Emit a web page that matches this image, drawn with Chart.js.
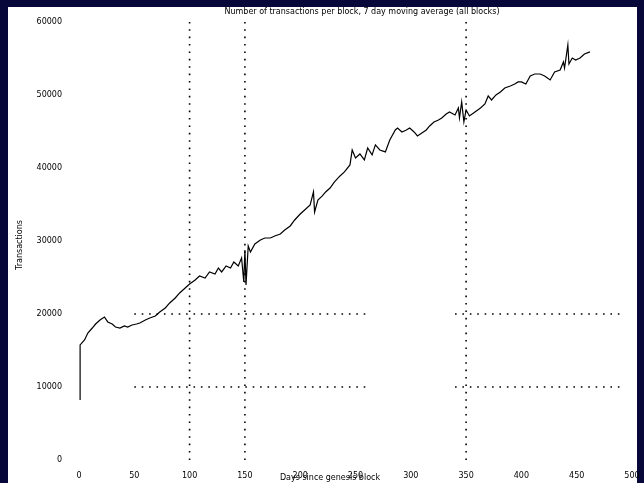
<!DOCTYPE html>
<html>
<head>
<meta charset="utf-8">
<script src="https://cdn.jsdelivr.net/npm/chart.js@4/dist/chart.umd.min.js"></script>
<style>
  html, body { margin: 0; padding: 0; background: #07073a; }
  #wrap { width: 644px; height: 483px; position: relative; }
</style>
</head>
<body>
<div id="wrap"><canvas id="chart" width="644" height="483"></canvas></div>
<script>
// Series (x = days, y = count)
const DAYS = [
  1, 1, 5, 8, 12, 15, 19, 23, 26, 30, 33, 37, 41, 44, 48, 52, 55, 60, 64, 69,
  73, 78, 82, 87, 91, 96, 100, 105, 109, 114, 118, 123, 126, 129, 133, 137, 140, 144, 147, 149,
  150, 151, 153, 155, 159, 164, 168, 173, 177, 182, 186, 191, 195, 200, 204, 209, 212, 213, 216, 220,
  223, 227, 231, 236, 240, 245, 247, 250, 254, 258, 261, 265, 268, 272, 277, 281, 286, 288, 292, 296,
  299, 303, 306, 310, 314, 317, 321, 325, 328, 332, 335, 340, 343, 344, 346, 348, 350, 353, 358, 363,
  367, 370, 373, 377, 381, 385, 390, 394, 397, 400, 404, 408, 412, 417, 421, 426, 430, 435, 438, 439,
  442, 443, 446, 449, 453, 457, 462
];
const COUNTS = [
  8220, 15760, 16440, 17400, 18080, 18630, 19180, 19590, 18910, 18630, 18220, 18080, 18360, 18220, 18500, 18630, 18770, 19180, 19450, 19730,
  20280, 20820, 21510, 22190, 22880, 23560, 24110, 24660, 25210, 24930, 25760, 25480, 26300, 25760, 26580, 26300, 27130, 26580, 27670, 24390,
  28770, 23980, 29320, 28500, 29590, 30140, 30410, 30410, 30690, 30960, 31510, 32060, 32880, 33700, 34250, 34940, 36720, 33980, 35620, 36170,
  36720, 37260, 38090, 38910, 39460, 40420, 42470, 41370, 41920, 41100, 42740, 41790, 43160, 42470, 42200, 43840, 45210, 45480, 44940, 45210,
  45480, 44940, 44390, 44800, 45210, 45760, 46310, 46580, 46850, 47400, 47680, 47270, 48220, 46850, 49050, 46310, 47950, 47130, 47680, 48220,
  48770, 49870, 49320, 50010, 50420, 50960, 51240, 51510, 51790, 51790, 51510, 52610, 52880, 52880, 52610, 52060, 53160, 53430, 54530, 53700,
  56860, 54250, 55070, 54800, 55070, 55620, 55900
];

const X_TICKS = [0, 50, 100, 150, 200, 250, 300, 350, 400, 450, 500];
const Y_TICKS = [0, 10000, 20000, 30000, 40000, 50000, 60000];

// Dotted grid lines that the original shows
const V_GRID_DAYS = [100, 150, 350];
const H_GRID_LEVELS = [10000, 20000];
const H_GRID_SPANS = [[50, 263], [340, 493]];

const TITLE = 'Number of transactions per block, 7 day moving average (all blocks)';
const X_TITLE = 'Days since genesis block';
const Y_TITLE = 'Transactions';

const FONT = "'DejaVu Sans', sans-serif";

const mainData = DAYS.map((d, i) => ({ x: d, y: COUNTS[i] }));

const gridSets = [];
V_GRID_DAYS.forEach(d => {
  gridSets.push({
    data: [{ x: d, y: Y_TICKS[0] }, { x: d, y: Y_TICKS[Y_TICKS.length - 1] }],
    borderColor: '#000', borderWidth: 1.6, borderDash: [1.6, 5.8], pointRadius: 0,
  });
});
H_GRID_LEVELS.forEach(v => {
  const pts = [];
  H_GRID_SPANS.forEach((s, k) => {
    if (k > 0) pts.push({ x: (H_GRID_SPANS[k - 1][1] + s[0]) / 2, y: null });
    pts.push({ x: s[0], y: v }, { x: s[1], y: v });
  });
  gridSets.push({
    data: pts,
    borderColor: '#000', borderWidth: 1.6, borderDash: [1.6, 5.8], pointRadius: 0, spanGaps: false,
  });
});

const framePlugin = {
  id: 'frame',
  beforeDraw(chart) {
    const { ctx, width, height } = chart;
    ctx.save();
    ctx.fillStyle = '#07073a';
    ctx.fillRect(0, 0, width, height);
    ctx.fillStyle = '#ffffff';
    ctx.fillRect(8, 7, 629, height - 7);
    ctx.restore();
  },
  afterDraw(chart) {
    const { ctx } = chart;
    ctx.save();
    ctx.fillStyle = '#000';
    ctx.font = `8px ${FONT}`;
    ctx.textAlign = 'center';
    ctx.textBaseline = 'middle';
    ctx.fillText(TITLE, 362, 12);
    ctx.fillText(X_TITLE, 330, 478);
    ctx.translate(20, 245);
    ctx.rotate(-Math.PI / 2);
    ctx.fillText(Y_TITLE, 0, 0);
    ctx.restore();
  },
};

new Chart(document.getElementById('chart'), {
  type: 'line',
  data: {
    datasets: [
      {
        data: mainData,
        borderColor: '#000',
        borderWidth: 1.2,
        pointRadius: 0,
        tension: 0,
      },
      ...gridSets,
    ],
  },
  plugins: [framePlugin],
  options: {
    responsive: false,
    animation: false,
    events: [],
    layout: { padding: { left: 0, top: 22, right: 12, bottom: 0 } },
    plugins: { legend: { display: false }, tooltip: { enabled: false }, title: { display: false } },
    scales: {
      x: {
        type: 'linear',
        min: X_TICKS[0],
        max: X_TICKS[X_TICKS.length - 1],
        afterBuildTicks: s => { s.ticks = X_TICKS.map(v => ({ value: v })); },
        afterFit: s => { s.height = 23; },
        grid: { display: false },
        border: { display: false },
        ticks: { color: '#000', font: { family: FONT, size: 8 }, padding: 3, maxRotation: 0 },
      },
      y: {
        type: 'linear',
        min: Y_TICKS[0],
        max: Y_TICKS[Y_TICKS.length - 1],
        afterBuildTicks: s => { s.ticks = Y_TICKS.map(v => ({ value: v })); },
        afterFit: s => { s.width = 79; },
        grid: { display: false },
        border: { display: false },
        ticks: {
          color: '#000', font: { family: FONT, size: 8 }, padding: 9,
          callback: v => String(v),
        },
      },
    },
  },
});
</script>
</body>
</html>
